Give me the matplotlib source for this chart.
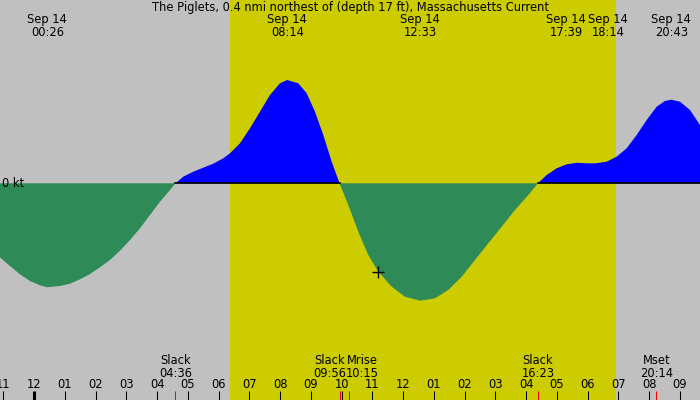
import numpy as np
import matplotlib
matplotlib.use("Agg")
import matplotlib.pyplot as plt
import matplotlib.transforms as mtransforms

# ---------------- data (hours after midnight, Sep 14; speed in knots) ----------------
hours = [-1.105, -0.780, -0.455, -0.130, 0.195, 0.433, 0.845, 1.170, 1.495, 1.821,
         2.146, 2.471, 2.796, 3.121, 3.446, 3.771, 4.096, 4.421, 4.600,
         4.854, 5.179, 5.504, 5.829, 6.154, 6.372, 6.697, 7.022, 7.347, 7.672,
         7.997, 8.233, 8.593, 8.866, 9.135, 9.405, 9.678, 9.933,
         10.218, 10.543, 10.868, 11.193, 11.629, 12.061, 12.550, 13.036, 13.469,
         13.905, 14.337, 14.769, 15.205, 15.637, 16.070, 16.383,
         16.668, 16.993, 17.318, 17.650, 17.968, 18.233, 18.618, 18.943, 19.268,
         19.593, 19.919, 20.244, 20.514, 20.717, 21.001, 21.326, 21.652]
speed = [-0.740, -0.827, -0.910, -0.977, -1.020, -1.040, -1.027, -1.004, -0.960, -0.907,
         -0.840, -0.767, -0.674, -0.567, -0.450, -0.317, -0.184, -0.067, 0.000,
         0.066, 0.116, 0.156, 0.196, 0.250, 0.300, 0.400, 0.550, 0.716, 0.883,
         1.000, 1.033, 1.000, 0.900, 0.716, 0.483, 0.216, 0.000,
         -0.217, -0.484, -0.717, -0.884, -1.034, -1.134, -1.174, -1.150, -1.067,
         -0.934, -0.767, -0.600, -0.434, -0.267, -0.117, 0.000,
         0.083, 0.150, 0.190, 0.205, 0.200, 0.199, 0.216, 0.266, 0.350,
         0.483, 0.633, 0.766, 0.823, 0.836, 0.816, 0.733, 0.583]

title = "The Piglets, 0.4 nmi northest of (depth 17 ft), Massachusetts Current"

# extrema labels at top
top_times = [0.433, 8.233, 12.550, 17.650, 18.233, 20.717]
top_labels = ["Sep 14\n00:26", "Sep 14\n08:14", "Sep 14\n12:33",
              "Sep 14\n17:39", "Sep 14\n18:14", "Sep 14\n20:43"]
top_shift_px = [0, 0, 0, -11, 13, 0]

# events at bottom
event_times = [4.600, 9.933, 10.250, 16.383, 20.233]
event_labels = ["Slack\n04:36", "Slack\n09:56", "Mrise\n10:15", "Slack\n16:23", "Mset\n20:14"]
event_shift_px = [0, -10, 13, 0, 0]

# daylight
sunrise, sunset = 6.37, 18.92

# hour ticks
tick_hours = list(range(-1, 22))
tick_labels = ["11", "12", "01", "02", "03", "04", "05", "06", "07", "08", "09", "10", "11",
               "12", "01", "02", "03", "04", "05", "06", "07", "08", "09"]

# current-time marker
now_h, now_v = 11.193, -0.884

# ---------------- drawing ----------------
GRAY = "#c0c0c0"
YELLOW = "#cccc00"
BLUE = "#0000ff"
GREEN = "#2e8b57"
FS = 8.3

fig = plt.figure(figsize=(7, 4), dpi=100)
ax = fig.add_axes([0, 0, 1, 1])
ax.set_facecolor(GRAY)
ax.set_xlim(-1.105, 21.652)
ax.set_ylim(-2.167, 1.833)
ax.axis("off")
fig.patch.set_facecolor(GRAY)
ax.add_patch(plt.Rectangle((0, 0), 1, 1, transform=ax.transAxes, color=GRAY, zorder=0))

ax.axvspan(sunrise, sunset, color=YELLOW, zorder=1, lw=0)

t = np.array(hours)
v = np.array(speed)
ax.fill_between(t, v, 0, where=v >= 0, interpolate=True, color=BLUE, lw=0, zorder=2)
ax.fill_between(t, v, 0, where=v <= 0, interpolate=True, color=GREEN, lw=0, zorder=2)
zero_line = np.where(v >= 0, 0.0, np.nan)
ax.plot(t, zero_line, color="black", lw=1.2, zorder=3)

ax.plot([now_h], [now_v], marker="+", color="black", ms=9, mew=1.0, zorder=4)

ax.text(0.003, 0.0, "0 kt", transform=mtransforms.blended_transform_factory(ax.transAxes, ax.transData),
        ha="left", va="center", fontsize=FS, zorder=5)

ax.text(0.5, 1 - 8 / 400, title, transform=ax.transAxes, ha="center", va="center", fontsize=FS, zorder=5)

bt = mtransforms.blended_transform_factory(ax.transData, ax.transAxes)
for tt, lab, sh in zip(top_times, top_labels, top_shift_px):
    tr = bt + mtransforms.ScaledTranslation(sh / 100, 0, fig.dpi_scale_trans)
    ax.text(tt, 1 - 26 / 400, lab, transform=tr, ha="center", va="center",
            fontsize=FS, linespacing=1.0, zorder=5)

for tt, lab, sh in zip(event_times, event_labels, event_shift_px):
    tr = bt + mtransforms.ScaledTranslation(sh / 100, 0, fig.dpi_scale_trans)
    ax.text(tt, 1 - 367 / 400, lab, transform=tr, ha="center", va="center",
            fontsize=FS, linespacing=1.0, zorder=5)

for h, lab in zip(tick_hours, tick_labels):
    ax.text(h, 1 - 385 / 400, lab, transform=bt, ha="center", va="center", fontsize=FS, zorder=5)
    lw = 2.2 if h == 0 else 0.75
    ax.plot([h, h], [0, 9 / 400], transform=bt, color="black", lw=lw, zorder=5, solid_capstyle="butt")

for tt in event_times:
    ax.plot([tt, tt], [0, 9 / 400], transform=bt, color="red", lw=0.75, zorder=6, solid_capstyle="butt")

fig.savefig("out.png", dpi=100, facecolor=GRAY)
